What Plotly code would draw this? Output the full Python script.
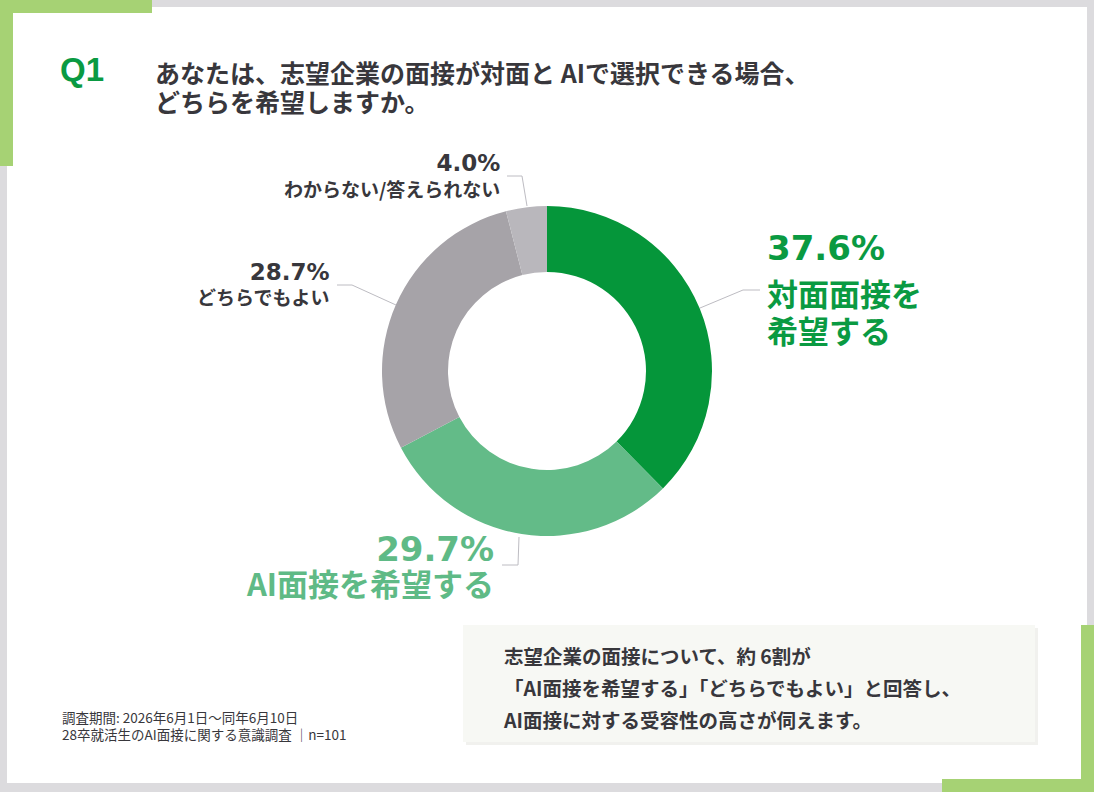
import plotly.graph_objects as go

# ---- data ----
categories = ["対面面接を希望する", "AI面接を希望する", "どちらでもよい", "わからない/答えられない"]
values = [37.6, 29.7, 28.7, 4.0]
pct_labels = ["37.6%", "29.7%", "28.7%", "4.0%"]
slice_colors = ["#05963a", "#63bb88", "#a6a3a8", "#b9b7bc"]

title_lines = ["あなたは、志望企業の面接が対面と AIで選択できる場合、", "どちらを希望しますか。"]
summary_lines = ["志望企業の面接について、約 6割が",
                 "「AI面接を希望する」「どちらでもよい」と回答し、",
                 "AI面接に対する受容性の高さが伺えます。"]
footnote_lines = ["調査期間: 2026年6月1日～同年6月10日",
                  "28卒就活生のAI面接に関する意識調査 │n=101"]

W, H = 1094, 792
def px(x): return x / W
def py(y): return 1 - y / H

JP = "Noto Sans CJK JP"
NUM = "DejaVu Sans"
DARK = "#38373c"
GREEN = "#0a9a42"
LGREEN = "#5fba86"
ACCENT = "#a6d274"
BG = "#dcdbde"

fig = go.Figure()
fig.add_trace(go.Pie(
    labels=categories, values=values, sort=False, direction="clockwise", rotation=0,
    hole=0.6, marker=dict(colors=slice_colors, line=dict(width=0)),
    textinfo="none", hoverinfo="label+percent", showlegend=False,
    domain=dict(x=[px(382), px(712)], y=[py(536), py(206)]),
))

shapes = []
def rect(x0, y0, x1, y1, color, layer="below"):
    shapes.append(dict(type="rect", xref="paper", yref="paper",
                       x0=px(x0), x1=px(x1), y0=py(y1), y1=py(y0),
                       fillcolor=color, line=dict(width=0), layer=layer))
# background frame
rect(0, 0, W, H, BG)
rect(7, 7, 1087, 783, "#ffffff")
# green corner accents
rect(0, 0, 152, 13, ACCENT)
rect(0, 0, 13, 166, ACCENT)
rect(1081, 625, W, H, ACCENT)
rect(942, 779, W, H, ACCENT)
# summary box with soft shadow
rect(466, 628, 1038, 745, "#f1f1ee")
rect(463, 625, 1035, 742, "#f7f8f4")

def line(pts):
    path = "M " + " L ".join(f"{px(x)},{py(y)}" for x, y in pts)
    shapes.append(dict(type="path", xref="paper", yref="paper", path=path,
                       line=dict(color="#bdbcc2", width=1), layer="above"))
line([(507, 176), (522, 176), (527, 206)])
line([(337, 285), (352, 285), (396, 305)])
line([(700, 308), (743, 290), (760, 290)])
line([(519, 537), (518, 565), (502, 565)])

fig.update_layout(shapes=shapes)

ann = []
def block(x, y, parts, spacing, color, anchor="left", weight=700):
    """parts: list of (text, size, family); spacing: line pitch in px; y: centre of block."""
    base = spacing / 1.3
    s = "<br>".join(
        f'<span style="font-size:{sz}px;font-family:\'{fam}\'">{t}</span>' for t, sz, fam in parts)
    ann.append(dict(x=px(x), y=py(y), xref="paper", yref="paper", text=s, showarrow=False,
                    xanchor=anchor, yanchor="middle", align=anchor,
                    font=dict(family=JP, size=base, color=color, weight=weight)))

block(58, 69, [("Q1", 33, "Liberation Sans")], 40, GREEN)
block(153, 86.5, [(t, 25, JP) for t in title_lines], 29, DARK)

# labels
block(502, 176, [(pct_labels[3], 23, NUM), (categories[3], 19, JP)], 26, DARK, anchor="right")
block(331, 284.5, [(pct_labels[2], 23, NUM), (categories[2], 19, JP)], 25, DARK, anchor="right")
block(765, 248, [(pct_labels[0], 34, NUM)], 44, GREEN)
block(765, 310.5, [("対面面接を", 31, JP), ("希望する", 31, JP)], 37, GREEN)
block(496, 566.5, [(pct_labels[1], 34, NUM), (categories[1], 31, JP)], 35, LGREEN, anchor="right")

# summary
block(501, 687, [(t, 19.5, JP) for t in summary_lines], 32, DARK)
# footnote
block(60, 725.5, [(t, 13.5, JP) for t in footnote_lines], 17, DARK, weight=400)

fig.update_layout(annotations=ann, width=W, height=H,
                  margin=dict(l=0, r=0, t=0, b=0),
                  paper_bgcolor="#ffffff", plot_bgcolor="#ffffff")
fig.write_html("out.html", config={"displayModeBar": False})
